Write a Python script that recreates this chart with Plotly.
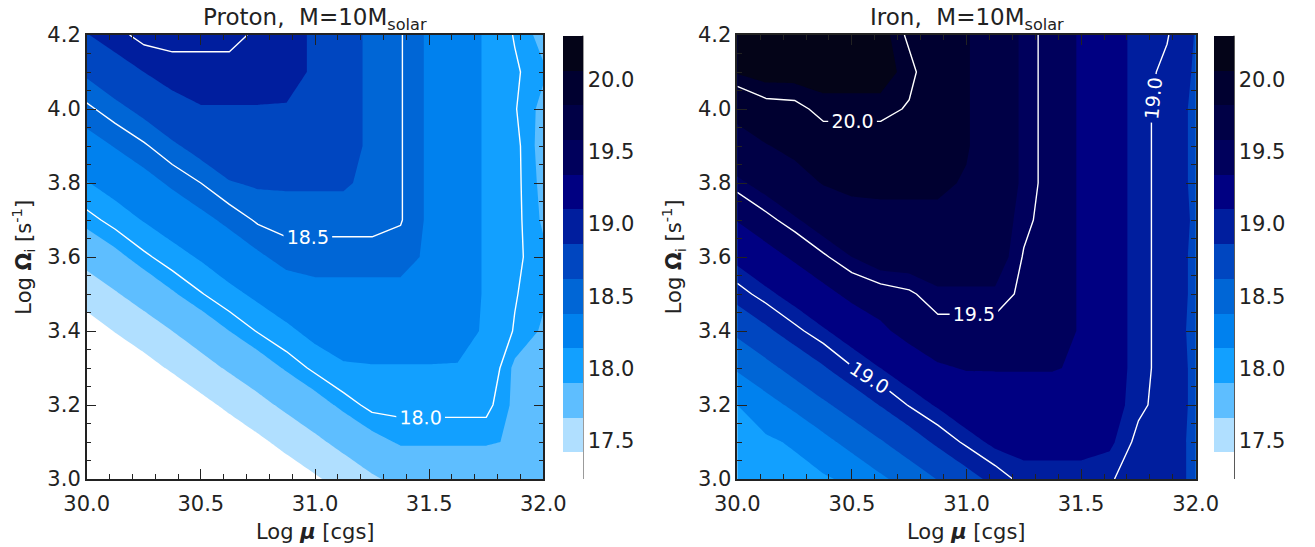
import plotly.graph_objects as go

# ---------------- data ----------------
log_mu = [30.0, 30.125, 30.25, 30.375, 30.5, 30.625, 30.75, 30.875, 31.0,
          31.125, 31.25, 31.375, 31.5, 31.625, 31.75, 31.875, 32.0]
log_omega = [3.0, 3.1, 3.2, 3.3, 3.4, 3.5, 3.6, 3.7, 3.8, 3.9, 4.0, 4.1, 4.2]

# rows follow log_omega (3.0 -> 4.2), columns follow log_mu (30 -> 32)
proton_flux = [
    [16.45, 16.57, 16.69, 16.81, 16.92, 17.04, 17.16, 17.28, 17.39, 17.51, 17.63, 17.72, 17.72, 17.72, 17.72, 17.72, 17.70],
    [16.67, 16.78, 16.90, 17.02, 17.14, 17.26, 17.37, 17.49, 17.61, 17.73, 17.84, 17.92, 17.92, 17.92, 17.92, 17.88, 17.78],
    [16.88, 17.00, 17.12, 17.23, 17.35, 17.47, 17.59, 17.71, 17.82, 17.94, 18.04, 18.04, 18.04, 18.04, 18.04, 17.87, 17.82],
    [17.09, 17.21, 17.33, 17.45, 17.57, 17.69, 17.80, 17.92, 18.03, 18.12, 18.13, 18.13, 18.13, 18.13, 18.12, 17.87, 17.84],
    [17.31, 17.43, 17.54, 17.66, 17.78, 17.90, 18.01, 18.10, 18.20, 18.23, 18.23, 18.23, 18.23, 18.20, 18.12, 17.99, 17.88],
    [17.52, 17.64, 17.76, 17.88, 17.99, 18.09, 18.18, 18.27, 18.33, 18.33, 18.33, 18.33, 18.33, 18.24, 18.12, 18.01, 17.92],
    [17.74, 17.85, 17.97, 18.07, 18.16, 18.26, 18.35, 18.44, 18.44, 18.44, 18.44, 18.44, 18.35, 18.24, 18.12, 18.03, 17.93],
    [17.95, 18.05, 18.15, 18.24, 18.33, 18.42, 18.52, 18.55, 18.55, 18.55, 18.55, 18.51, 18.35, 18.24, 18.12, 18.04, 17.88],
    [18.13, 18.22, 18.31, 18.41, 18.50, 18.61, 18.64, 18.64, 18.64, 18.64, 18.58, 18.51, 18.35, 18.24, 18.12, 18.04, 17.86],
    [18.30, 18.39, 18.48, 18.59, 18.69, 18.74, 18.74, 18.74, 18.74, 18.70, 18.58, 18.51, 18.35, 18.24, 18.12, 18.04, 17.84],
    [18.47, 18.57, 18.67, 18.78, 18.85, 18.85, 18.85, 18.85, 18.84, 18.70, 18.58, 18.51, 18.35, 18.24, 18.12, 18.01, 17.86],
    [18.65, 18.76, 18.86, 18.94, 18.94, 18.94, 18.94, 18.91, 18.84, 18.70, 18.58, 18.51, 18.35, 18.24, 18.12, 18.02, 17.92],
    [18.85, 18.95, 19.05, 19.05, 19.05, 19.05, 18.97, 18.91, 18.84, 18.70, 18.58, 18.51, 18.35, 18.24, 18.12, 17.99, 17.85],
]

iron_flux = [
    [17.94, 18.00, 18.05, 18.11, 18.19, 18.34, 18.48, 18.63, 18.78, 18.92, 19.05, 19.05, 19.05, 19.01, 18.95, 18.90, 18.84],
    [18.04, 18.10, 18.17, 18.31, 18.46, 18.60, 18.75, 18.90, 19.03, 19.14, 19.15, 19.15, 19.15, 19.13, 18.96, 18.90, 18.84],
    [18.14, 18.29, 18.43, 18.58, 18.72, 18.87, 19.01, 19.12, 19.23, 19.25, 19.25, 19.25, 19.25, 19.18, 19.03, 18.94, 18.83],
    [18.41, 18.55, 18.70, 18.84, 18.99, 19.10, 19.21, 19.32, 19.35, 19.35, 19.35, 19.35, 19.32, 19.18, 19.05, 18.94, 18.83],
    [18.67, 18.82, 18.96, 19.08, 19.19, 19.30, 19.41, 19.45, 19.45, 19.45, 19.45, 19.44, 19.32, 19.18, 19.05, 18.94, 18.82],
    [18.94, 19.06, 19.17, 19.28, 19.39, 19.44, 19.48, 19.56, 19.56, 19.56, 19.47, 19.44, 19.32, 19.18, 19.05, 18.94, 18.83],
    [19.15, 19.26, 19.37, 19.48, 19.58, 19.66, 19.66, 19.66, 19.66, 19.66, 19.49, 19.44, 19.32, 19.18, 19.05, 18.94, 18.83],
    [19.35, 19.46, 19.56, 19.66, 19.75, 19.77, 19.77, 19.77, 19.77, 19.67, 19.53, 19.44, 19.32, 19.18, 19.05, 18.94, 18.84],
    [19.55, 19.64, 19.74, 19.83, 19.86, 19.86, 19.86, 19.86, 19.80, 19.67, 19.56, 19.44, 19.32, 19.18, 19.05, 18.94, 18.83],
    [19.72, 19.81, 19.87, 19.94, 19.94, 19.94, 19.94, 19.91, 19.84, 19.67, 19.56, 19.44, 19.32, 19.18, 19.05, 18.94, 18.83],
    [19.89, 19.96, 19.97, 20.03, 20.03, 20.03, 19.99, 19.91, 19.84, 19.67, 19.56, 19.44, 19.32, 19.18, 19.05, 18.94, 18.83],
    [20.07, 20.10, 20.10, 20.10, 20.10, 20.10, 20.03, 19.91, 19.84, 19.67, 19.56, 19.44, 19.32, 19.18, 19.05, 18.97, 18.84],
    [20.18, 20.18, 20.18, 20.18, 20.18, 20.10, 19.98, 19.91, 19.84, 19.67, 19.56, 19.44, 19.32, 19.18, 19.05, 19.01, 18.85],
]

panel_titles = ["Proton,\u00a0 M=10M<sub>solar</sub>", "Iron,\u00a0 M=10M<sub>solar</sub>"]

fill_levels = dict(start=17.42, end=20.06, size=0.24)
band_colors = ["#ffffff", "#b0dfff", "#5ebeff", "#12a0ff", "#0081ee", "#0066d6",
               "#0046c0", "#001e9e", "#000082", "#00005c", "#000046", "#000030", "#040418"]
cbar_range = [17.235, 20.30]
proton_lines = dict(start=18.0, end=19.0, size=0.5)
iron_lines = dict(start=19.0, end=20.0, size=0.5)
cbar_ticks = [17.5, 18.0, 18.5, 19.0, 19.5, 20.0]
x_ticks = [30.0, 30.5, 31.0, 31.5, 32.0]
y_ticks = [3.0, 3.2, 3.4, 3.6, 3.8, 4.0, 4.2]

# ---------------- layout geometry (pixels) ----------------
W, H = 1315, 547
FONT = "DejaVu Sans"
plot_top, plot_bot = 35.0, 479.0
cb_top = 35.7
panels = [
    dict(x0=86.7, x1=543.3, cb0=562.7, xa="x", ya="y"),
    dict(x0=737.3, x1=1195.7, cb0=1214.0, xa="x2", ya="y2"),
]

def px_x(p):
    return p / W

def px_y(p):
    return 1 - p / H

n = len(band_colors) - 1
colorscale = [[i / n, c] for i, c in enumerate(band_colors)]

# stepped colour scale for the colour bar (band edges at the fill levels)
lev = [fill_levels["start"] + i * fill_levels["size"] for i in range(n)]
span = cbar_range[1] - cbar_range[0]
edges = [0.0] + [(v - cbar_range[0]) / span for v in lev] + [1.0]
cb_scale = []
for j, c in enumerate(band_colors):
    cb_scale.append([edges[j], c])
    cb_scale.append([edges[j + 1], c])

fig = go.Figure()
datasets = [(proton_flux, proton_lines), (iron_flux, iron_lines)]
for k, (zdata, lines) in enumerate(datasets):
    p = panels[k]
    fig.add_trace(go.Contour(
        x=log_mu, y=log_omega, z=zdata,
        xaxis=p["xa"], yaxis=p["ya"],
        colorscale=colorscale, autocontour=False, showscale=False,
        contours=dict(start=fill_levels["start"], end=fill_levels["end"],
                      size=fill_levels["size"], coloring="fill", showlines=False),
        line=dict(width=0, smoothing=0),
        hoverinfo="skip",
    ))
    fig.add_trace(go.Contour(
        x=log_mu, y=log_omega, z=zdata,
        xaxis=p["xa"], yaxis=p["ya"],
        autocontour=False, showscale=False,
        contours=dict(start=lines["start"], end=lines["end"], size=lines["size"],
                      coloring="none", showlabels=True,
                      labelfont=dict(family=FONT, size=19, color="white"),
                      labelformat=".1f"),
        line=dict(color="white", width=1.4, smoothing=0),
        hoverinfo="skip",
    ))
    # colour bar carrier (no visible points)
    fig.add_trace(go.Scatter(
        x=[None], y=[None], mode="markers", xaxis=p["xa"], yaxis=p["ya"],
        hoverinfo="skip", showlegend=False,
        marker=dict(color=[cbar_range[0]], cmin=cbar_range[0], cmax=cbar_range[1],
                    colorscale=cb_scale, showscale=True,
                    colorbar=dict(
                        x=px_x(p["cb0"]), xanchor="left", xpad=0,
                        y=px_y(plot_bot), yanchor="bottom", ypad=0,
                        len=(plot_bot - cb_top) / H, lenmode="fraction",
                        thickness=20, thicknessmode="pixels",
                        outlinewidth=0,
                        tickvals=cbar_ticks, ticktext=["%.1f" % v for v in cbar_ticks],
                        ticks="",
                        tickfont=dict(family=FONT, size=21, color="#222"),
                    )),
    ))

axis_common = dict(showgrid=False, zeroline=False, showline=True, linecolor="#222",
                   linewidth=1.5, mirror="allticks", ticks="inside", ticklen=10,
                   tickwidth=1.2, tickcolor="#222", automargin=False,
                   tickfont=dict(family=FONT, size=21, color="#222"))

layout = dict(
    width=W, height=H, margin=dict(l=0, r=0, t=0, b=0, autoexpand=False),
    paper_bgcolor="white", plot_bgcolor="white", showlegend=False,
    font=dict(family=FONT, color="#222"),
)
annotations = []
shapes = []
for k, p in enumerate(panels):
    sfx = "" if k == 0 else "2"
    layout["xaxis" + sfx] = dict(
        domain=[px_x(p["x0"]), px_x(p["x1"])], range=[30, 32],
        anchor="y" + sfx, tickvals=x_ticks, ticktext=["%.1f" % v for v in x_ticks],
        ticklabelstandoff=5,
        minor=dict(dtick=0.1, tick0=30, ticks="inside", ticklen=5, tickcolor="#222", tickwidth=1),
        **axis_common)
    layout["yaxis" + sfx] = dict(
        domain=[px_y(plot_bot), px_y(plot_top)], range=[3.0, 4.2],
        anchor="x" + sfx, tickvals=y_ticks, ticktext=["%.1f" % v for v in y_ticks],
        minor=dict(dtick=0.05, tick0=3.0, ticks="inside", ticklen=5, tickcolor="#222", tickwidth=1),
        **axis_common)
    cx = (p["x0"] + p["x1"]) / 2
    annotations.append(dict(text=panel_titles[k], x=px_x(cx), y=px_y(19), xref="paper", yref="paper",
                            showarrow=False, xanchor="center", yanchor="middle",
                            font=dict(family=FONT, size=23, color="#222")))
    annotations.append(dict(text="Log <b><i>\u03bc</i></b> [cgs]", x=px_x(cx), y=px_y(532),
                            xref="paper", yref="paper", showarrow=False,
                            xanchor="center", yanchor="middle",
                            font=dict(family=FONT, size=21, color="#222")))
    annotations.append(dict(text="Log <b>\u03a9</b><sub>i</sub> [s<sup>-1</sup>]",
                            x=px_x(p["x0"] - 64), y=px_y((plot_top + plot_bot) / 2),
                            xref="paper", yref="paper", showarrow=False, textangle=-90,
                            xanchor="center", yanchor="middle",
                            font=dict(family=FONT, size=21, color="#222")))
    cbx = p["cb0"] + 20
    shapes.append(dict(type="line", xref="paper", yref="paper",
                       x0=px_x(cbx), x1=px_x(cbx), y0=px_y(plot_bot), y1=px_y(cb_top),
                       line=dict(color="#222", width=1.5)))

layout["annotations"] = annotations
layout["shapes"] = shapes
fig.update_layout(**layout)
fig.write_html("out.html")
